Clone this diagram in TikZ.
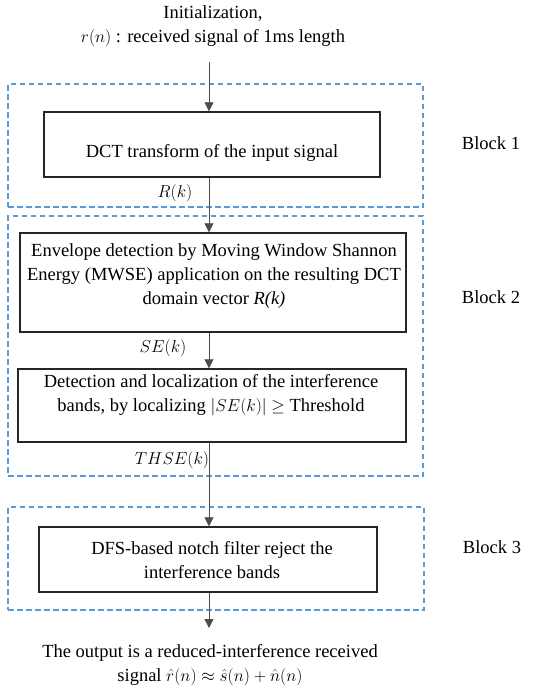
\documentclass[tikz,border=0pt]{standalone}
\usepackage{fontspec}
\setmainfont{Liberation Serif}
\usetikzlibrary{arrows.meta}
\definecolor{blockblue}{RGB}{91,155,213}
\begin{document}
\begin{tikzpicture}[x=1pt,y=-1pt,
  blk/.style={draw=blockblue, dash pattern=on 5.5pt off 3.5pt, line width=1.1pt, inner sep=0, minimum width=#1},
  box/.style={draw=black!85, line width=1.4pt, inner sep=0},
  txt/.style={font=\fontsize{18.5}{24}\selectfont, align=center, inner sep=0},
  lbl/.style={font=\fontsize{16.5}{20}\selectfont, inner sep=0},
  arr/.style={-{Triangle[length=9pt,width=9pt]}, line width=0.8pt, draw=black!70}
]
\useasboundingbox (0,0) rectangle (558,696);

% dashed block frames
\node[blk=415, minimum height=123] (g1) at (215.5,145.5) {};
\node[blk=415, minimum height=260] (g2) at (215.5,346) {};
\node[blk=416, minimum height=103] (g3) at (216,558.5) {};

% process boxes
\node[box, minimum width=336, minimum height=65] (b1) at (212,144.5) {};
\node[box, minimum width=386, minimum height=99] (b2) at (213,282.5) {};
\node[box, minimum width=388, minimum height=73] (b3) at (212,405.5) {};
\node[box, minimum width=338, minimum height=65] (b4) at (208,559.5) {};

% texts
\node[txt] (in) at (213,26.5) {Initialization,\\ $r(n)$ : received signal of 1ms length};
\node[txt] (t1) at (212,153) {DCT transform of the input signal};
\node[txt] (t2) at (214,276) {Envelope detection by Moving Window Shannon\\ Energy (MWSE) application on the resulting DCT\\ domain vector \textit{R(k)}};
\node[txt] (t3) at (211,395) {Detection and localization of the interference\\ bands, by localizing $|SE(k)|\geq$ Threshold};
\node[txt] (t4) at (212,560) {DFS-based notch filter reject the\\ interference bands};
\node[txt] (out) at (210,665) {The output is a reduced-interference received\\ signal $\hat{r}(n)\approx\hat{s}(n)+\hat{n}(n)$};

\node[txt] (k1) at (491,143) {Block 1};
\node[txt] (k2) at (491,297) {Block 2};
\node[txt] (k3) at (492,547) {Block 3};

% signal labels
\node[lbl] (l1) at (175,193) {$R(k)$};
\node[lbl] (l2) at (163,348) {$SE(k)$};
\node[lbl] (l3) at (172,460) {$THSE(k)$};

% connectors
\coordinate (c0) at (209,62);
\coordinate (c5) at (209,628);
\draw[arr] (c0) -- (c0 |- b1.north);
\draw[arr] (c0 |- b1.south) -- (c0 |- b2.north);
\draw[arr] (c0 |- b2.south) -- (c0 |- b3.north);
\draw[arr] (c0 |- b3.south) -- (c0 |- b4.north);
\draw[arr] (c0 |- b4.south) -- (c5);
\end{tikzpicture}
\end{document}
